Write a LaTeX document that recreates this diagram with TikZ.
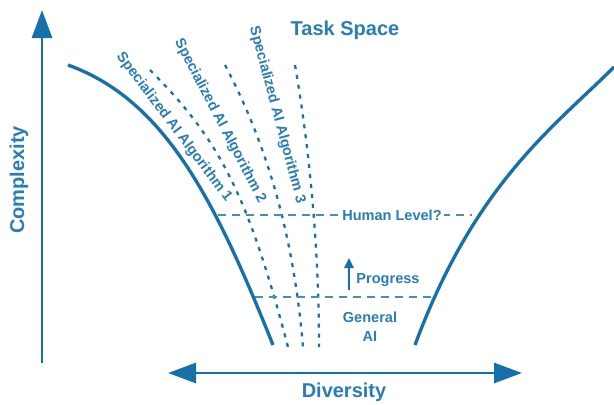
\documentclass[tikz,border=0pt]{standalone}
\usepackage{fontspec}
\setmainfont{Liberation Sans}
\usepackage{xcolor}
\usetikzlibrary{arrows.meta}
\definecolor{axisblue}{RGB}{22,112,170}
\definecolor{labelblue}{RGB}{40,124,184}

\begin{document}
\begin{tikzpicture}[x=0.75pt, y=-0.75pt, inner sep=0pt,
		bigtip/.tip={Triangle[length=21pt, width=15pt]},
		smalltip/.tip={Triangle[length=7.5pt, width=7pt]},
		axis/.style={line width=2.2pt, draw=axisblue},
		border/.style={line width=2.5pt, draw=axisblue},
		algo/.style={line width=1.7pt, draw=axisblue, dash pattern=on 3pt off 4.5pt},
		level/.style={line width=1.1pt, draw=axisblue!80, dash pattern=on 6pt off 4.5pt},
		title/.style={font=\fontsize{15pt}{17pt}\selectfont\bfseries, text=labelblue},
		tag/.style={font=\fontsize{10.9pt}{14pt}\selectfont\bfseries, text=labelblue}]
			\useasboundingbox (0,0) rectangle (614,404);
			
			% axes
			\coordinate (y_lo) at (42,363);
			\coordinate (y_hi) at (42,10);
			\coordinate (x_lo) at (168,373);
			\coordinate (x_hi) at (522,373);
			\draw[axis, -bigtip] (y_lo) -- (y_hi);
			\draw[axis, bigtip-bigtip] (x_lo) -- (x_hi);
			
			\node[title, rotate=90] (complexity) at (19,180) {Complexity};
			\node[title] (diversity) at (344,392) {Diversity};
			\node[title, anchor=base] (space) at (345,35) {Task Space};
			
			% borders of the task space
			\draw[border] (68,65) .. controls (165,100) and (215,200) .. (273,345);
			\draw[border] (415,345) .. controls (475,183) and (554,127) .. (614,67);
			
			% specialized algorithms
			\draw[algo] (150,70) .. controls (220,140) and (248,195) .. (288,347);
			\draw[algo] (225,65) .. controls (278,165) and (296,265) .. (303,347);
			\draw[algo] (295,65) .. controls (308,140) and (319,240) .. (319,347);
			
			\node[tag, rotate=-53] (alg_1) at (174,127) {Specialized AI Algorithm 1};
			\node[tag, rotate=-62.5] (alg_2) at (220,121) {Specialized AI Algorithm 2};
			\node[tag, rotate=-75] (alg_3) at (277,115) {Specialized AI Algorithm 3};
			
			% levels
			\coordinate (human_l) at (218,215);
			\coordinate (human_r) at (472,215);
			\coordinate (general_l) at (255,297);
			\coordinate (general_r) at (433,297);
			\draw[level] (human_l) -- (human_r);
			\draw[level] (general_l) -- (general_r);
			
			\node[tag, fill=white, inner xsep=2pt, inner ysep=2pt] (human) at (392,215) {Human Level?};
			\node[tag] (progress) at (388,280) {Progress};
			\node[tag, align=center] (general) at (370,327) {General\\AI};
			
			\coordinate (prog_lo) at (349,290);
			\coordinate (prog_hi) at (349,258);
			\draw[line width=1.5pt, axisblue, -smalltip] (prog_lo) -- (prog_hi);
		\end{tikzpicture}
\end{document}
